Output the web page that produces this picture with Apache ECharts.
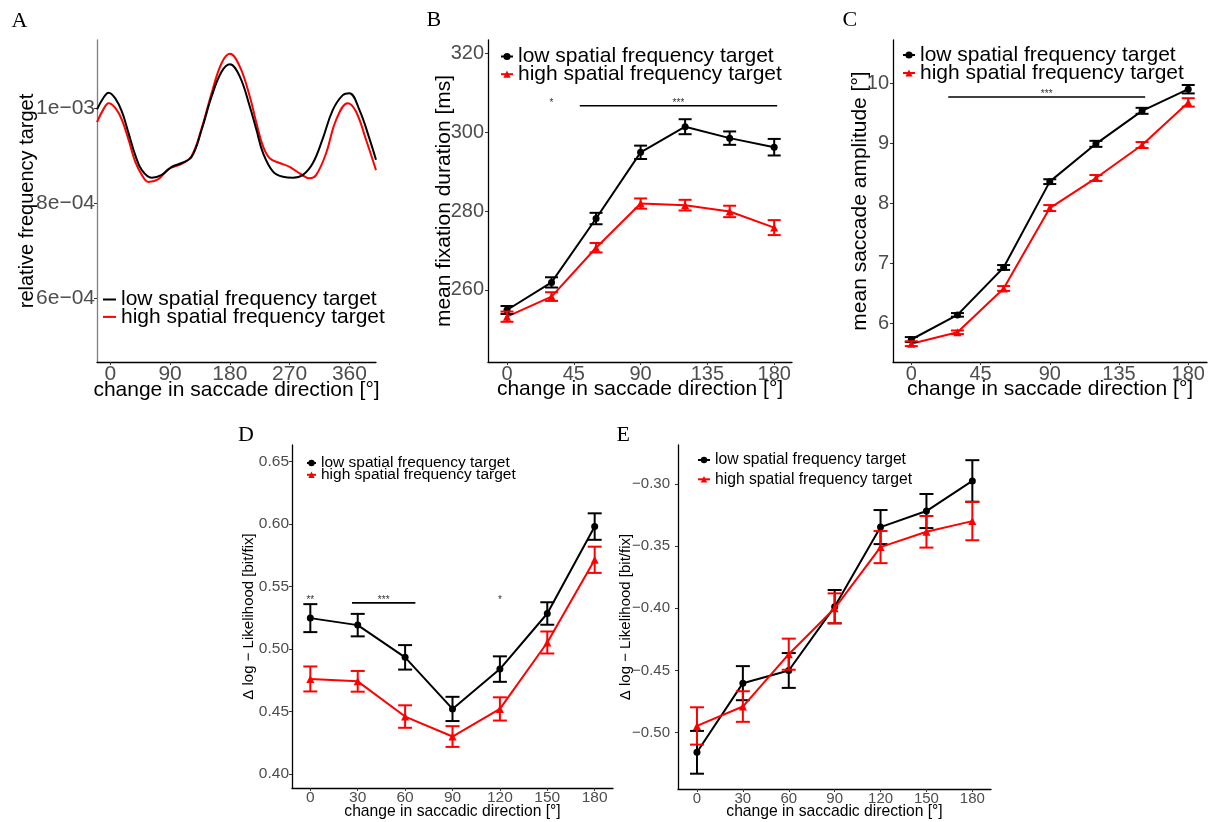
<!DOCTYPE html>
<html><head><meta charset="utf-8">
<script src="https://cdn.jsdelivr.net/npm/echarts@6/dist/echarts.min.js"></script>
<style>html,body{margin:0;padding:0;background:#fff}#c{width:1214px;height:822px}</style>
</head><body><div id="c"></div>
<script>
// ---------------- data ----------------
const LOW = 'low spatial frequency target';
const HIGH = 'high spatial frequency target';

// Panel A: density of change in saccade direction
const aLowX  = [-20,-10,-2.5,7.5,17.5,27.5,37.5,47.5,62.5,77.5,92.5,107.5,122.5,137.5,152.5,167.5,180,195,210,220,230,245,260,275,290,305,320,335,350,360,375,390,400];
const aLowY  = [9.97e-4,1.022e-3,1.032e-3,1.020e-3,9.92e-4,9.47e-4,9.01e-4,8.69e-4,8.53e-4,8.59e-4,8.76e-4,8.84e-4,8.97e-4,9.54e-4,1.024e-3,1.076e-3,1.092e-3,1.066e-3,1.003e-3,9.54e-4,9.05e-4,8.66e-4,8.55e-4,8.53e-4,8.59e-4,8.84e-4,9.36e-4,9.96e-4,1.027e-3,1.031e-3,9.96e-4,9.36e-4,8.91e-4];
const aHighX = [-20,-10,-2.5,7.5,17.5,27.5,37.5,47.5,57.5,72.5,87.5,107.5,122.5,137.5,152.5,167.5,180,195,210,220,230,240,255,270,285,300,310,325,340,357.5,370,385,400];
const aHighY = [9.70e-4,9.98e-4,1.010e-3,1.000e-3,9.75e-4,9.33e-4,8.87e-4,8.59e-4,8.44e-4,8.50e-4,8.71e-4,8.82e-4,8.99e-4,9.57e-4,1.031e-3,1.094e-3,1.114e-3,1.087e-3,1.024e-3,9.68e-4,9.19e-4,8.94e-4,8.84e-4,8.76e-4,8.62e-4,8.52e-4,8.59e-4,9.05e-4,9.75e-4,1.010e-3,9.92e-4,9.33e-4,8.69e-4];
const aTicksX = [0,90,180,270,360];
const aTicksY = [6e-4,8e-4,1e-3];
const aLabelsY = ['6e\u221204','8e\u221204','1e\u221203'];

// Panels B-E share direction bins
const dirX = [0,30,60,90,120,150,180];
const ticks45 = [0,45,90,135,180];
const ticks30 = [0,30,60,90,120,150,180];

// Panel B: mean fixation duration [ms]
const bLow     = [254.9,261.9,278.1,294.9,301.4,298.5,296.2];
const bLowErr  = [1.0,1.3,1.45,1.7,1.9,1.7,2.1];
const bHigh    = [253.2,258.3,270.7,281.9,281.5,279.9,275.8];
const bHighErr = [1.3,1.1,1.2,1.3,1.35,1.45,1.9];
const bTicksY  = [260,280,300,320];
const bSigX1 = [30,49];
const bSigX2 = [30,182];
const bSigY  = [306.7,306.7];
const bSigLabel = ['*','***'];

// Panel C: mean saccade amplitude [deg]
const cLow     = [5.73,6.14,6.93,8.36,8.99,9.54,9.90];
const cLowErr  = [0.04,0.03,0.04,0.04,0.05,0.05,0.07];
const cHigh    = [5.66,5.85,6.58,7.92,8.42,8.97,9.68];
const cHighErr = [0.04,0.03,0.04,0.05,0.05,0.05,0.07];
const cTicksY  = [6,7,8,9,10];
const cSigX1 = [24];
const cSigX2 = [152];
const cSigY  = [9.77];
const cSigLabel = ['***'];

// Panel D: delta log-likelihood
const dLow     = [0.5248,0.5192,0.4934,0.4521,0.4840,0.5285,0.5981];
const dLowErr  = [0.0112,0.0090,0.0098,0.0097,0.0102,0.0090,0.0106];
const dHigh    = [0.4761,0.4742,0.4460,0.4300,0.4521,0.5053,0.5715];
const dHighErr = [0.0100,0.0083,0.0090,0.0083,0.0093,0.0088,0.0105];
const dTicksY  = [0.40,0.45,0.50,0.55,0.60,0.65];
const dLabelsY = ['0.40','0.45','0.50','0.55','0.60','0.65'];
const dSigX1 = [0,26.4,120];
const dSigX2 = [0,66.5,120];
const dSigY  = [0.537,0.537,0.537];
const dSigLabel = ['**','***','*'];

// Panel E: delta log-likelihood
const eLow     = [-0.5158,-0.4602,-0.4500,-0.3987,-0.3347,-0.3218,-0.2976];
const eLowErr  = [0.0172,0.0137,0.0140,0.0134,0.0137,0.0137,0.0167];
const eHigh    = [-0.4946,-0.4790,-0.4369,-0.4000,-0.3508,-0.3385,-0.3299];
const eHighErr = [0.0150,0.0123,0.0125,0.0120,0.0129,0.0127,0.0154];
const eTicksY  = [-0.50,-0.45,-0.40,-0.35,-0.30];
const eLabelsY = ['\u22120.50','\u22120.45','\u22120.40','\u22120.35','\u22120.30'];

// ---------------- chart ----------------
const SANS = '"Liberation Sans", Arial, sans-serif';
const SERIF = '"Liberation Serif", "Times New Roman", serif';
const RED = '#ff0000';

function axis(o) {
  const labels = o.labels || o.ticks.map(String);
  return {
    type: 'value', gridIndex: o.g, min: o.min, max: o.max,
    name: o.name, nameLocation: 'middle', nameGap: o.nameGap, nameMoveOverlap: false,
    nameTextStyle: {color: '#000', fontSize: o.nameSize, fontFamily: SANS},
    axisLine: {show: true, onZero: false, lineStyle: {color: o.lineColor || '#000', width: 1.3}},
    axisTick: {show: true, length: 3, inside: false, customValues: o.ticks, lineStyle: {color: '#333', width: 1}},
    axisLabel: {
      show: true, customValues: o.ticks, color: '#4d4d4d', fontSize: o.labelSize, fontFamily: SANS, margin: o.margin,
      formatter: v => { const i = o.ticks.findIndex(t => Math.abs(t - v) < 1e-9); return i >= 0 ? labels[i] : ''; }
    },
    splitLine: {show: false}
  };
}

function lineSeries(name, idx, xs, ys, color, symbol, size, z, smooth) {
  return {
    type: 'line', name, xAxisIndex: idx, yAxisIndex: idx,
    data: xs.map((x, i) => [x, ys[i]]),
    symbol, symbolSize: size, showSymbol: symbol !== 'none', smooth: smooth || false,
    lineStyle: {color, width: 2}, itemStyle: {color}, z, silent: true
  };
}

function errSeries(idx, xs, ys, es, color, cap, z) {
  return {
    type: 'custom', xAxisIndex: idx, yAxisIndex: idx, z, silent: true, clip: false,
    itemStyle: {color},
    encode: {x: 0, y: 1},
    data: xs.map((x, i) => [x, ys[i], es[i]]),
    renderItem: (params, api) => {
      const x = api.value(0), y = api.value(1), e = api.value(2);
      const t = api.coord([x, y + e]), b = api.coord([x, y - e]);
      const st = {stroke: color, lineWidth: 2};
      return {type: 'group', children: [
        {type: 'line', shape: {x1: t[0], y1: t[1], x2: b[0], y2: b[1]}, style: st},
        {type: 'line', shape: {x1: t[0] - cap / 2, y1: t[1], x2: t[0] + cap / 2, y2: t[1]}, style: st},
        {type: 'line', shape: {x1: b[0] - cap / 2, y1: b[1], x2: b[0] + cap / 2, y2: b[1]}, style: st}
      ]};
    }
  };
}

function sigSeries(idx, x1s, x2s, ys, labels) {
  return {
    type: 'custom', xAxisIndex: idx, yAxisIndex: idx, z: 5, silent: true, clip: false,
    encode: {x: [0, 1], y: 2},
    data: x1s.map((x, i) => [x, x2s[i], ys[i]]),
    renderItem: (params, api) => {
      const i = params.dataIndex;
      const y = api.value(2);
      const p1 = api.coord([api.value(0), y]), p2 = api.coord([api.value(1), y]);
      const ch = [];
      if (x2s[i] > x1s[i]) ch.push({type: 'line', shape: {x1: p1[0], y1: p1[1], x2: p2[0], y2: p2[1]}, style: {stroke: '#000', lineWidth: 1.6}});
      ch.push({type: 'text', style: {text: labels[i], x: (p1[0] + p2[0]) / 2, y: p1[1] - 3, align: 'center', verticalAlign: 'middle', fontSize: 10, fill: '#333', fontFamily: SANS}});
      return {type: 'group', children: ch};
    }
  };
}

function legend(tag, left, top, itemWidth, itemHeight, fontSize, gap, icon) {
  const mk = n => icon ? {name: n, icon} : {name: n};
  return {
    data: [mk(LOW + '#' + tag), mk(HIGH + '#' + tag)], orient: 'vertical', left, top, padding: 0,
    itemWidth, itemHeight, itemGap: gap, selectedMode: false,
    formatter: n => n.split('#')[0],
    textStyle: {color: '#000', fontSize, fontFamily: SANS}
  };
}

const grids = [
  {left: 97,  top: 40,  width: 279, height: 322},
  {left: 488, top: 40,  width: 304, height: 322},
  {left: 893, top: 40,  width: 314, height: 322},
  {left: 292, top: 445, width: 321, height: 343},
  {left: 678, top: 445, width: 313, height: 344}
];

const xTitle = 'change in saccade direction [\u00b0]';
const xTitle2 = 'change in saccadic direction [\u00b0]';
const dllTitle = '\u0394 log \u2212 Likelihood [bit/fix]';

const option = {
  animation: false,
  backgroundColor: '#fff',
  grid: grids,
  xAxis: [
    axis({g: 0, min: -20, max: 400, ticks: aTicksX, name: xTitle, nameGap: 17.5, nameSize: 21, labelSize: 21, margin: 2}),
    axis({g: 1, min: -12.8, max: 192, ticks: ticks45, name: xTitle, nameGap: 17, nameSize: 21, labelSize: 20, margin: 2}),
    axis({g: 2, min: -11.9, max: 192.2, ticks: ticks45, name: xTitle, nameGap: 17, nameSize: 21, labelSize: 20, margin: 2}),
    axis({g: 3, min: -11.6, max: 191.6, ticks: ticks30, name: xTitle2, nameGap: 15.6, nameSize: 15.7, labelSize: 15.5, margin: 2}),
    axis({g: 4, min: -12.4, max: 192.2, ticks: ticks30, name: xTitle2, nameGap: 15, nameSize: 15.7, labelSize: 15, margin: 2})
  ],
  yAxis: [
    axis({g: 0, min: 4.65e-4, max: 1.143e-3, ticks: aTicksY, labels: aLabelsY, name: 'relative frequency target', nameGap: 60, nameSize: 20, labelSize: 21, margin: 2, lineColor: '#7f7f7f'}),
    axis({g: 1, min: 241.7, max: 323.4, ticks: bTicksY, name: 'mean fixation duration [ms]', nameGap: 33, nameSize: 21, labelSize: 20, margin: 4}),
    axis({g: 2, min: 5.355, max: 10.72, ticks: cTicksY, name: 'mean saccade amplitude [\u00b0]', nameGap: 22, nameSize: 21, labelSize: 20, margin: 4}),
    axis({g: 3, min: 0.3888, max: 0.6634, ticks: dTicksY, labels: dLabelsY, name: dllTitle, nameGap: 36, nameSize: 15, labelSize: 15.5, margin: 3}),
    axis({g: 4, min: -0.5453, max: -0.2687, ticks: eTicksY, labels: eLabelsY, name: dllTitle, nameGap: 45, nameSize: 15, labelSize: 15, margin: 8})
  ],
  legend: [
    legend('A', 103, 289, 13, 2, 21, -3.6, 'rect'),
    legend('B', 500, 46, 12, 9, 21, -3.3),
    legend('C', 902, 44.5, 12, 9, 21, -3),
    legend('D', 306, 455, 9, 8, 15.5, -4.2),
    legend('E', 697, 452, 12, 8, 15.7, 3.3)
  ],
  graphic: [
    ['A', 11.5, 21], ['B', 426.5, 20], ['C', 842.5, 20.5], ['D', 238, 435.5], ['E', 616.5, 435.5]
  ].map(([t, x, y]) => ({type: 'text', left: x, top: y - 11, style: {text: t, fontSize: 22, fontFamily: SERIF, fill: '#000'}})),
  series: [
    lineSeries(LOW + '#A', 0, aLowX, aLowY, '#000', 'none', 0, 3, 0.4),
    lineSeries(HIGH + '#A', 0, aHighX, aHighY, RED, 'none', 0, 2, 0.4),

    lineSeries(LOW + '#B', 1, dirX, bLow, '#000', 'circle', 7, 3),
    errSeries(1, dirX, bLow, bLowErr, '#000', 13, 4),
    lineSeries(HIGH + '#B', 1, dirX, bHigh, RED, 'triangle', 8, 3),
    errSeries(1, dirX, bHigh, bHighErr, RED, 13, 4),
    sigSeries(1, bSigX1, bSigX2, bSigY, bSigLabel),

    lineSeries(LOW + '#C', 2, dirX, cLow, '#000', 'circle', 7, 3),
    errSeries(2, dirX, cLow, cLowErr, '#000', 13, 4),
    lineSeries(HIGH + '#C', 2, dirX, cHigh, RED, 'triangle', 8, 3),
    errSeries(2, dirX, cHigh, cHighErr, RED, 13, 4),
    sigSeries(2, cSigX1, cSigX2, cSigY, cSigLabel),

    lineSeries(LOW + '#D', 3, dirX, dLow, '#000', 'circle', 7, 3),
    errSeries(3, dirX, dLow, dLowErr, '#000', 14, 4),
    lineSeries(HIGH + '#D', 3, dirX, dHigh, RED, 'triangle', 8, 3),
    errSeries(3, dirX, dHigh, dHighErr, RED, 14, 4),
    sigSeries(3, dSigX1, dSigX2, dSigY, dSigLabel),

    lineSeries(LOW + '#E', 4, dirX, eLow, '#000', 'circle', 7, 3),
    errSeries(4, dirX, eLow, eLowErr, '#000', 14, 4),
    lineSeries(HIGH + '#E', 4, dirX, eHigh, RED, 'triangle', 8, 5),
    errSeries(4, dirX, eHigh, eHighErr, RED, 14, 6)
  ]
};

const chart = echarts.init(document.getElementById('c'), null, {renderer: 'canvas'});
chart.setOption(option);
</script>
</body></html>
